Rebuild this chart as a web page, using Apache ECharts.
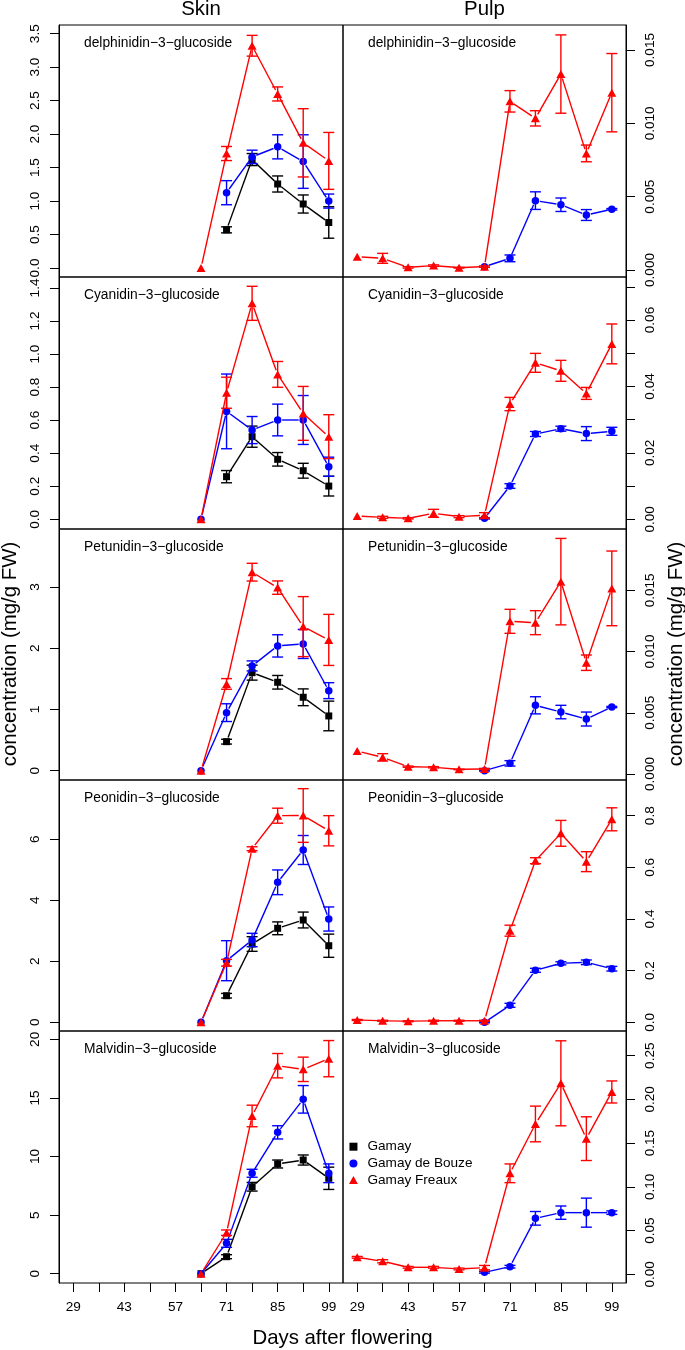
<!DOCTYPE html>
<html><head><meta charset="utf-8">
<script src="https://cdn.jsdelivr.net/npm/echarts@6/dist/echarts.min.js"></script>
<style>html,body{margin:0;padding:0;background:#fff}#c{width:685px;height:1350px}</style>
</head><body><div id="c"></div>
<script>
// ---------------- data ----------------
const daysSkin = [64, 71, 78, 85, 92, 99];
const daysPulp = [29, 36, 43, 50, 57, 64, 71, 78, 85, 92, 99];
const xTicks = [29, 36, 43, 50, 57, 64, 71, 78, 85, 92, 99];
const xTickLabels = [29, 43, 57, 71, 85, 99];
const compounds = ['delphinidin\u22123\u2212glucoside', 'Cyanidin\u22123\u2212glucoside', 'Petunidin\u22123\u2212glucoside', 'Peonidin\u22123\u2212glucoside', 'Malvidin\u22123\u2212glucoside'];
const cultivars = ['Gamay', 'Gamay de Bouze', 'Gamay Freaux'];

// Skin: mean and standard error
const delSkinGamay = [null, 0.57, 1.62, 1.255, 0.956, 0.68];
const delSkinGamaySE = [null, 0.045, 0.09, 0.12, 0.135, 0.235];
const delSkinBouze = [null, 1.125, 1.66, 1.81, 1.59, 1.00];
const delSkinBouzeSE = [null, 0.18, 0.10, 0.18, 0.40, 0.105];
const delSkinFreaux = [0, 1.71, 3.32, 2.60, 1.87, 1.60];
const delSkinFreauxSE = [0, 0.105, 0.155, 0.105, 0.51, 0.425];

const cyaSkinGamay = [null, 0.258, 0.50, 0.363, 0.294, 0.201];
const cyaSkinGamaySE = [null, 0.037, 0.064, 0.041, 0.045, 0.06];
const cyaSkinBouze = [0, 0.653, 0.54, 0.601, 0.601, 0.318];
const cyaSkinBouzeSE = [0, 0.226, 0.082, 0.096, 0.148, 0.058];
const cyaSkinFreaux = [0, 0.766, 1.307, 0.877, 0.641, 0.50];
const cyaSkinFreauxSE = [0, 0.094, 0.103, 0.078, 0.163, 0.133];

const petSkinGamay = [null, 0.474, 1.601, 1.444, 1.199, 0.894];
const petSkinGamaySE = [null, 0.039, 0.122, 0.111, 0.137, 0.242];
const petSkinBouze = [0, 0.948, 1.711, 2.038, 2.070, 1.307];
const petSkinBouzeSE = [0, 0.145, 0.082, 0.182, 0.237, 0.13];
const petSkinFreaux = [0, 1.417, 3.242, 2.990, 2.353, 2.136];
const petSkinFreauxSE = [0, 0.087, 0.145, 0.109, 0.49, 0.417];

const peoSkinGamay = [null, 0.872, 2.567, 3.082, 3.354, 2.511];
const peoSkinGamaySE = [null, 0.075, 0.24, 0.21, 0.26, 0.38];
const peoSkinBouze = [0, 2.02, 2.698, 4.59, 5.649, 3.387];
const peoSkinBouzeSE = [0, 0.656, 0.22, 0.405, 0.475, 0.395];
const peoSkinFreaux = [0, 1.954, 5.69, 6.774, 6.78, 6.28];
const peoSkinFreauxSE = [0, 0.11, 0.065, 0.246, 0.88, 0.495];

const malSkinGamay = [0, 1.45, 7.42, 9.36, 9.70, 8.14];
const malSkinGamaySE = [0, 0.17, 0.37, 0.34, 0.43, 0.95];
const malSkinBouze = [0, 2.59, 8.57, 12.06, 14.88, 8.57];
const malSkinBouzeSE = [0, 0.34, 0.34, 0.565, 1.175, 0.80];
const malSkinFreaux = [0, 3.50, 13.46, 17.75, 17.44, 18.35];
const malSkinFreauxSE = [0, 0.23, 0.92, 1.04, 1.04, 1.545];

// Pulp: mean and standard error
const delPulpBouze = [null, null, null, null, null, 0.00023, 0.000795, 0.00473, 0.00445, 0.00375, 0.00414];
const delPulpBouzeSE = [null, null, null, null, null, 0, 0.00023, 0.0006, 0.00046, 0.00037, 0.00005];
const delPulpFreaux = [0.000907, 0.000795, 0.00018, 0.00030, 0.00016, 0.00023, 0.0115, 0.01034, 0.01336, 0.00795, 0.01209];
const delPulpFreauxSE = [0, 0.00034, 0.00005, 0.00005, 0.00003, 0.00005, 0.00073, 0.00052, 0.00267, 0.00057, 0.00267];

const cyaPulpBouze = [null, null, null, null, null, 0.0003, 0.01002, 0.02568, 0.02728, 0.0258, 0.0265];
const cyaPulpBouzeSE = [null, null, null, null, null, 0.0002, 0.0007, 0.00075, 0.00075, 0.0021, 0.0012];
const cyaPulpFreaux = [0.00099, 0.0006, 0.0003, 0.0018, 0.0008, 0.0012, 0.0347, 0.0471, 0.0447, 0.0379, 0.0528];
const cyaPulpFreauxSE = [0, 0.0003, 0.0002, 0.0012, 0.0003, 0.0008, 0.002, 0.00285, 0.00315, 0.0018, 0.006];

const petPulpBouze = [null, null, null, null, null, 0.00027, 0.00087, 0.00561, 0.00506, 0.00449, 0.00547];
const petPulpBouzeSE = [null, null, null, null, null, 0.00003, 0.00022, 0.0007, 0.00055, 0.00057, 0.00005];
const petPulpFreaux = [0.00188, 0.00136, 0.0006, 0.00055, 0.00038, 0.00041, 0.01247, 0.01236, 0.01571, 0.00909, 0.01516];
const petPulpFreauxSE = [0, 0.0003, 0.00005, 0.00005, 0.00003, 0.00005, 0.00098, 0.00098, 0.00353, 0.00063, 0.00305];

const peoPulpBouze = [null, null, null, null, null, 0.0, 0.0658, 0.2013, 0.2284, 0.2323, 0.2075];
const peoPulpBouzeSE = [null, null, null, null, null, 0.002, 0.0078, 0.0077, 0.006, 0.009, 0.009];
const peoPulpFreaux = [0.009, 0.006, 0.004, 0.006, 0.006, 0.006, 0.3547, 0.6257, 0.7317, 0.622, 0.786];
const peoPulpFreauxSE = [0.002, 0.002, 0.002, 0.002, 0.002, 0.002, 0.0213, 0.0115, 0.050, 0.0386, 0.0445];

const malPulpBouze = [null, null, null, null, null, 0.0023, 0.0087, 0.064, 0.0705, 0.0705, 0.0705];
const malPulpBouzeSE = [null, null, null, null, null, 0.001, 0.0015, 0.0078, 0.0076, 0.0166, 0.002];
const malPulpFreaux = [0.0194, 0.0149, 0.008, 0.008, 0.0061, 0.0076, 0.1155, 0.1719, 0.2184, 0.1551, 0.2085];
const malPulpFreauxSE = [0.001, 0.0018, 0.001, 0.001, 0.001, 0.0025, 0.0107, 0.0204, 0.0486, 0.025, 0.0126];

// y tick values and labels
const skinYLabels = [
  [0, 0.5, 1, 1.5, 2, 2.5, 3, 3.5],
  [0, 0.2, 0.4, 0.6, 0.8, 1.0, 1.2, 1.4],
  [0, 1, 2, 3],
  [0, 2, 4, 6],
  [0, 5, 10, 15, 20]
];
const skinYDecimals = [1, 1, 0, 0, 0];
const pulpYLabels = [
  [0, 0.005, 0.010, 0.015],
  [0, 0.02, 0.04, 0.06],
  [0, 0.005, 0.010, 0.015],
  [0, 0.2, 0.4, 0.6, 0.8],
  [0, 0.05, 0.10, 0.15, 0.20, 0.25]
];
const pulpYTicks = [
  [0, 0.005, 0.010, 0.015],
  [0, 0.01, 0.02, 0.03, 0.04, 0.05, 0.06, 0.07],
  [0, 0.005, 0.010, 0.015],
  [0, 0.2, 0.4, 0.6, 0.8],
  [0, 0.05, 0.10, 0.15, 0.20, 0.25]
];
const pulpYDecimals = [3, 2, 3, 1, 2];

// ---------------- layout ----------------
const skinData = [
  [[delSkinGamay, delSkinGamaySE], [delSkinBouze, delSkinBouzeSE], [delSkinFreaux, delSkinFreauxSE]],
  [[cyaSkinGamay, cyaSkinGamaySE], [cyaSkinBouze, cyaSkinBouzeSE], [cyaSkinFreaux, cyaSkinFreauxSE]],
  [[petSkinGamay, petSkinGamaySE], [petSkinBouze, petSkinBouzeSE], [petSkinFreaux, petSkinFreauxSE]],
  [[peoSkinGamay, peoSkinGamaySE], [peoSkinBouze, peoSkinBouzeSE], [peoSkinFreaux, peoSkinFreauxSE]],
  [[malSkinGamay, malSkinGamaySE], [malSkinBouze, malSkinBouzeSE], [malSkinFreaux, malSkinFreauxSE]]
];
const pulpData = [
  [null, [delPulpBouze, delPulpBouzeSE], [delPulpFreaux, delPulpFreauxSE]],
  [null, [cyaPulpBouze, cyaPulpBouzeSE], [cyaPulpFreaux, cyaPulpFreauxSE]],
  [null, [petPulpBouze, petPulpBouzeSE], [petPulpFreaux, petPulpFreauxSE]],
  [null, [peoPulpBouze, peoPulpBouzeSE], [peoPulpFreaux, peoPulpFreauxSE]],
  [null, [malPulpBouze, malPulpBouzeSE], [malPulpFreaux, malPulpFreauxSE]]
];
const skinRange = [[-0.1344, 3.630], [-0.0587, 1.4663], [-0.1519, 3.947], [-0.285, 7.944], [-0.794, 20.71]];
const pulpRange = [[-0.000477, 0.016705], [-0.00292, 0.07294], [-0.00049, 0.02001], [-0.0337, 0.9382], [-0.00995, 0.2782]];

const rowTop = [25, 277, 529, 780, 1031];
const rowH = [252, 252, 251, 251, 252];
const FONT = 'Liberation Sans';
const colors = ['#000000', '#0000ff', '#ff0000'];
const symbols = ['rect', 'circle', 'triangle'];
const symSizes = [7, 7.5, [9, 8]];
const LW = 1.4;

const grids = [], xAxes = [], yAxes = [], series = [], graphics = [];

function errRender(params, api) {
  const x = api.value(0), m = api.value(1), s = api.value(2);
  const t = api.coord([x, m + s]), b = api.coord([x, m - s]);
  const w = 5.5;
  const st = { stroke: api.visual('color'), lineWidth: LW, fill: null };
  return { type: 'group', children: [
    { type: 'line', shape: { x1: t[0], y1: t[1], x2: b[0], y2: b[1] }, style: st },
    { type: 'line', shape: { x1: t[0] - w, y1: t[1], x2: t[0] + w, y2: t[1] }, style: st },
    { type: 'line', shape: { x1: b[0] - w, y1: b[1], x2: b[0] + w, y2: b[1] }, style: st }
  ] };
}

// line segment between consecutive points, with a gap around each point (R type = "b")
function segRender(params, api) {
  const p = api.coord([api.value(0), api.value(1)]);
  const q = api.coord([api.value(2), api.value(3)]);
  const dx = q[0] - p[0], dy = q[1] - p[1];
  const len = Math.sqrt(dx * dx + dy * dy);
  const g = 4.5;
  if (len <= 2 * g) return null;
  const ux = dx / len, uy = dy / len;
  return { type: 'line', shape: { x1: p[0] + ux * g, y1: p[1] + uy * g, x2: q[0] - ux * g, y2: q[1] - uy * g },
    style: { stroke: api.visual('color'), lineWidth: LW, fill: null } };
}

function addPanel(gi, row, side) {
  const isSkin = side === 0;
  const bottom = row === 4;
  grids.push({ left: isSkin ? 59 : 343, width: isSkin ? 284 : 283, top: rowTop[row], height: rowH[row],
    show: true, borderColor: '#000', borderWidth: 1, backgroundColor: 'transparent' });
  xAxes.push({ type: 'value', gridIndex: gi, min: 25.1, max: 102.9,
    axisLine: { show: false, onZero: false }, splitLine: { show: false },
    axisTick: { show: bottom, length: 9, customValues: xTicks, lineStyle: { color: '#000' } },
    axisLabel: { show: bottom, customValues: xTickLabels, fontSize: 13.6, color: '#000', fontFamily: FONT, margin: 17 } });
  const rng = isSkin ? skinRange[row] : pulpRange[row];
  const labs = isSkin ? skinYLabels[row] : pulpYLabels[row];
  const ticks = isSkin ? skinYLabels[row] : pulpYTicks[row];
  const dec = isSkin ? skinYDecimals[row] : pulpYDecimals[row];
  yAxes.push({ type: 'value', gridIndex: gi, min: rng[0], max: rng[1], position: isSkin ? 'left' : 'right',
    axisLine: { show: true, onZero: false, lineStyle: { color: '#000', width: 1 } }, splitLine: { show: false },
    axisTick: { show: true, length: 9, customValues: ticks, lineStyle: { color: '#000' } },
    axisLabel: { show: true, customValues: labs, rotate: 90, fontSize: 13.6, color: '#000', fontFamily: FONT, margin: 17,
      formatter: v => Number(v).toFixed(dec) } });
  const sets = isSkin ? skinData[row] : pulpData[row];
  const days = isSkin ? daysSkin : daysPulp;
  sets.forEach((s, k) => {
    if (!s) return;
    const mean = s[0], se = s[1];
    const pts = [], errs = [], segs = [];
    days.forEach((d, i) => {
      if (mean[i] == null) return;
      pts.push([d, mean[i]]);
      if (se[i] > 0) errs.push([d, mean[i], se[i]]);
    });
    for (let i = 1; i < pts.length; i++) segs.push([pts[i - 1][0], pts[i - 1][1], pts[i][0], pts[i][1]]);
    series.push({ type: 'custom', xAxisIndex: gi, yAxisIndex: gi, data: segs, renderItem: segRender,
      itemStyle: { color: colors[k] }, z: 2 + k, silent: true });
    series.push({ type: 'line', name: cultivars[k], xAxisIndex: gi, yAxisIndex: gi, data: pts,
      symbol: symbols[k], symbolSize: symSizes[k], showSymbol: true, z: 2 + k,
      itemStyle: { color: colors[k] }, lineStyle: { width: 0, opacity: 0 },
      emphasis: { disabled: true }, silent: true });
    series.push({ type: 'custom', xAxisIndex: gi, yAxisIndex: gi, data: errs, renderItem: errRender,
      itemStyle: { color: colors[k] }, z: 2 + k, silent: true });
  });
  graphics.push({ type: 'text', x: isSkin ? 84 : 368, y: rowTop[row] + 18,
    style: { text: compounds[row], fontSize: 13.8, fontFamily: FONT, fill: '#000', align: 'left', verticalAlign: 'middle' } });
}

for (let r = 0; r < 5; r++) { addPanel(2 * r, r, 0); addPanel(2 * r + 1, r, 1); }

graphics.push({ type: 'text', x: 201, y: 9.5, style: { text: 'Skin', fontSize: 20.4, fontFamily: FONT, fill: '#000', align: 'center', verticalAlign: 'middle' } });
graphics.push({ type: 'text', x: 484.5, y: 9.5, style: { text: 'Pulp', fontSize: 20.4, fontFamily: FONT, fill: '#000', align: 'center', verticalAlign: 'middle' } });
graphics.push({ type: 'text', x: 342.5, y: 1338, style: { text: 'Days after flowering', fontSize: 20.4, fontFamily: FONT, fill: '#000', align: 'center', verticalAlign: 'middle' } });
graphics.push({ type: 'text', x: 10, y: 654, rotation: Math.PI / 2, style: { text: 'concentration (mg/g FW)', fontSize: 20.4, fontFamily: FONT, fill: '#000', align: 'center', verticalAlign: 'middle' } });
graphics.push({ type: 'text', x: 676, y: 654, rotation: Math.PI / 2, style: { text: 'concentration (mg/g FW)', fontSize: 20.4, fontFamily: FONT, fill: '#000', align: 'center', verticalAlign: 'middle' } });

const option = {
  animation: false,
  backgroundColor: '#fff',
  textStyle: { fontFamily: FONT },
  grid: grids, xAxis: xAxes, yAxis: yAxes, series: series,
  graphic: graphics,
  legend: {
    left: 344, top: 1134.7, orient: 'vertical', itemWidth: 18, itemHeight: 8, itemGap: 2.7,
    symbolKeepAspect: true, selectedMode: false,
    textStyle: { fontSize: 13.6, color: '#000', fontFamily: FONT, lineHeight: 14 },
    data: [
      { name: 'Gamay', icon: 'path://M0,0h10v10h-10z' },
      { name: 'Gamay de Bouze', icon: 'path://M0,5a5,5 0 1,0 10,0a5,5 0 1,0 -10,0z' },
      { name: 'Gamay Freaux', icon: 'path://M5,0L10,9L0,9z' }
    ]
  }
};
const chart = echarts.init(document.getElementById('c'), null, { renderer: 'canvas' });
chart.setOption(option);
</script>
</body></html>
